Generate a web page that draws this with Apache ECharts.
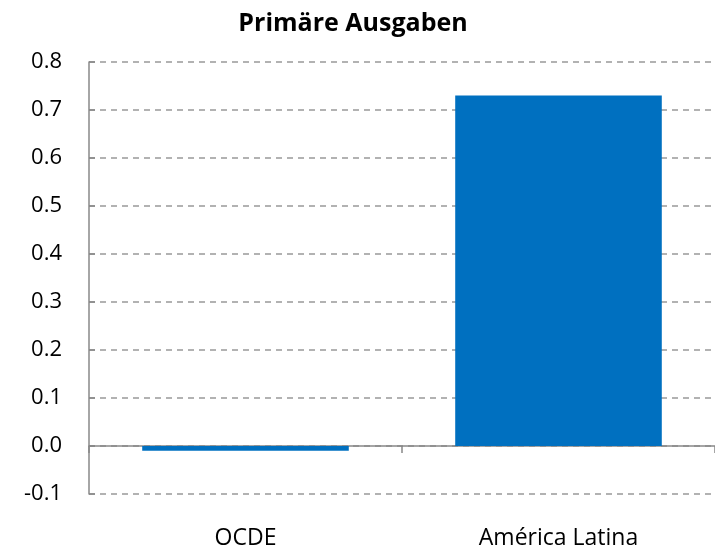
<!DOCTYPE html>
<html>
<head>
<meta charset="utf-8">
<script src="https://cdn.jsdelivr.net/npm/echarts@6/dist/echarts.min.js"></script>
<style>
html, body { margin: 0; padding: 0; background: #fff; }
#chart { width: 715px; height: 550px; }
</style>
</head>
<body>
<div id="chart"></div>
<script>
var titleText = 'Primäre Ausgaben';
var categories = ['OCDE', 'América Latina'];
var values = [-0.01, 0.73];

var myChart = echarts.init(document.getElementById('chart'));
var fontFam = '"Open Sans", "Liberation Sans", sans-serif';
var option = {
    animation: false,
    title: {
        text: titleText,
        left: 348,
        textAlign: 'center',
        top: 6,
        textStyle: { fontFamily: fontFam, fontSize: 25, fontWeight: 'bold', color: '#000' }
    },
    grid: { left: 89, right: 0, top: 62, bottom: 56, containLabel: false, outerBoundsMode: 'none' },
    xAxis: {
        type: 'category',
        data: categories,
        axisLine: { onZero: true, lineStyle: { color: '#888', width: 1.5 } },
        axisTick: { show: true, length: 7, lineStyle: { color: '#888', width: 1.5 } },
        axisLabel: { margin: 33, fontFamily: fontFam, fontSize: 23, color: '#000' },
        splitLine: { show: false }
    },
    yAxis: {
        type: 'value',
        min: -0.1,
        max: 0.8,
        interval: 0.1,
        axisLine: { show: true, lineStyle: { color: '#888', width: 1.5 } },
        axisTick: { show: true, inside: true, length: 6, lineStyle: { color: '#888', width: 1.5 } },
        axisLabel: {
            margin: 27, fontFamily: fontFam, fontSize: 22, color: '#000',
            formatter: function (v) { return v.toFixed(1); }
        },
        splitLine: { show: true, lineStyle: { color: '#999', type: [6, 5], width: 1.5 } }
    },
    series: [{
        type: 'bar',
        data: values,
        barCategoryGap: '34%',
        itemStyle: { color: '#0070C0' }
    }]
};
myChart.setOption(option);
</script>
</body>
</html>
